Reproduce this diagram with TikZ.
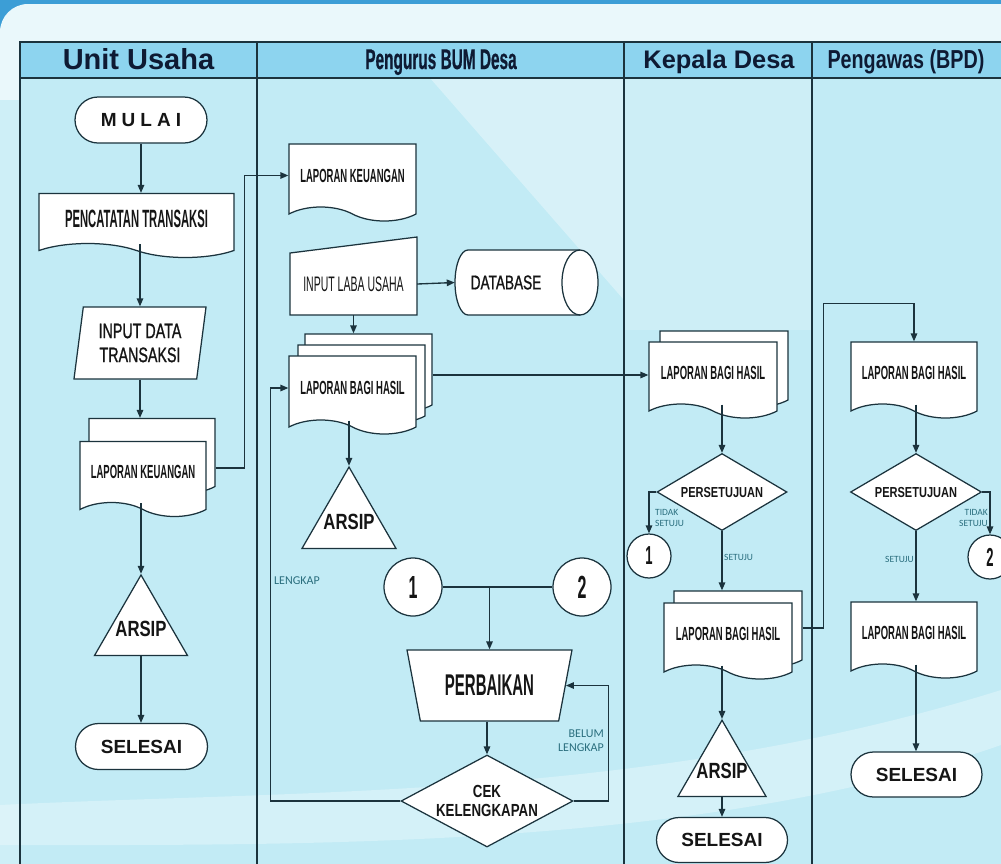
\documentclass[tikz,border=0pt]{standalone}
\usepackage{fontspec}
\setmainfont{Liberation Sans}
\newfontfamily\condf[FakeStretch=0.5]{Liberation Sans}
\newfontfamily\pctf[FakeStretch=0.45]{Liberation Sans}
\newfontfamily\midf[FakeStretch=0.68,FakeBold=1]{Liberation Sans}
\newfontfamily\hdnarf[FakeStretch=0.54,FakeBold=0.6]{Liberation Sans}
\newfontfamily\narf[FakeStretch=0.76]{Liberation Sans}
\newfontfamily\lblf{Carlito}
\usetikzlibrary{shapes.geometric,shapes.symbols,shapes.misc,arrows.meta,calc}
\definecolor{ln}{HTML}{1B333D}
\definecolor{txt}{HTML}{151515}
\definecolor{hdtxt}{HTML}{0E1A33}
\definecolor{lblc}{HTML}{2A6E7E}
\definecolor{topblue}{HTML}{3C9ED6}
\definecolor{pale}{HTML}{EAF8FB}
\definecolor{bgcyan}{HTML}{C2EBF5}
\definecolor{headblue}{HTML}{8DD4EF}
\newcommand{\trit}[1]{\makebox[0pt]{\raisebox{-7.9pt}[0pt][0pt]{#1}}}
\begin{document}
\begin{tikzpicture}[x=1pt,y=-1pt,
  base/.style={draw=ln, line width=1.25pt, fill=white, text=txt, inner sep=0pt},
  term/.style={base, rounded rectangle, minimum width=132pt, minimum height=46pt,
    font=\bfseries\fontsize{19}{22}\selectfont},
  doc/.style={base, tape, tape bend top=none, tape bend bottom=out and in,
    tape bend height=14pt, minimum height=76pt, minimum width=127pt,
    font=\condf\bfseries\fontsize{19}{22}\selectfont},
  tri/.style={base, regular polygon, regular polygon sides=3,
    font=\narf\bfseries\fontsize{22}{24}\selectfont},
  dia/.style={base, diamond, align=center},
  circ/.style={base, circle},
  arr/.style={draw=ln, line width=1.35pt, -{Triangle[length=8pt,width=6.5pt]}},
  conn/.style={draw=ln, line width=1.35pt},
  tbl/.style={draw=ln, line width=1.2pt},
  hd/.style={text=hdtxt, inner sep=0pt, anchor=base},
  lbl/.style={text=lblc, inner sep=0pt, font=\lblf\fontsize{9.5}{11}\selectfont},
  lblbig/.style={text=lblc, inner sep=0pt, font=\lblf\fontsize{12}{14}\selectfont}
]
\path[use as bounding box] (0,0) rectangle (1001,863);
\clip (0,0) rectangle (1001,863);
% ---------- background ----------
\fill[topblue] (0,0) rectangle (1001,863);
\fill[pale, rounded corners=28pt] (0,4) rectangle (1060,920);
\fill[bgcyan!70!pale] (0,100) rectangle (20,880);
\fill[bgcyan] (20,78) rectangle (1010,880);
\fill[white, opacity=0.35] (430,78) -- (624,78) -- (624,300) -- cycle;
\fill[white, opacity=0.18] (624,78) rectangle (812,330);
\fill[white, opacity=0.3] (0,805) .. controls (300,790) and (650,800) .. (1001,690)
   -- (1001,745) .. controls (700,850) and (300,845) .. (0,845) -- cycle;
\fill[headblue] (20,42) rectangle (1010,78);
\draw[tbl] (20,880) -- (20,42) -- (1010,42);
\draw[tbl] (20,78) -- (1010,78);
\draw[tbl] (257,42) -- (257,880);
\draw[tbl] (624,42) -- (624,880);
\draw[tbl] (812,42) -- (812,880);
% ---------- headers ----------
\node[hd, font=\bfseries\fontsize{29}{32}\selectfont] (h1) at (138.5,69) {Unit Usaha};
\node[hd, font=\hdnarf\bfseries\fontsize{28.5}{30}\selectfont] (h2) at (441,69) {Pengurus BUM Desa};
\node[hd, font=\bfseries\fontsize{25.4}{28}\selectfont] (h3) at (719,68) {Kepala Desa};
\node[hd, font=\narf\bfseries\fontsize{26}{28}\selectfont] (h4) at (906,68) {Pengawas (BPD)};
% ---------- Unit Usaha ----------
\node[term] (mulai) at (141,120) {M\kern5pt U\kern5pt L\kern5pt A\kern5pt I};
\node[doc, minimum width=195pt, minimum height=64pt, font=\pctf\bfseries\fontsize{25}{27}\selectfont]
  (pct) at (136.5,218.5) {PENCATATAN TRANSAKSI};
\node[base, trapezium, trapezium left angle=80, trapezium right angle=100,
  trapezium stretches=true, minimum width=133pt, minimum height=72pt, align=center,
  font=\midf\fontsize{21}{24}\selectfont] (ida) at (140,343) {INPUT DATA\\TRANSAKSI};
\node[doc, minimum width=126pt, minimum height=75pt] (lk1b) at (152,449) {};
\node[doc, minimum width=126pt, minimum height=75pt] (lk1) at (143,472) {LAPORAN KEUANGAN};
\node[tri, minimum size=107.4pt] (ars1) at (141,628.7) {\trit{ARSIP}};
\node[term] (sel1) at (141.5,746.5) {SELESAI};
\draw[arr] (mulai.south) -- (mulai.south |- pct.north);
\draw[arr] (ida.north |- pct.south) -- (ida.north);
\draw[arr] (ida.south) -- (ida.south |- lk1b.north);
\draw[arr] (ars1.north |- lk1.south) -- (ars1.north);
\draw[arr] (ars1.south) -- (ars1.south |- sel1.north);
% ---------- Pengurus BUM Desa ----------
\node[doc, minimum height=77pt] (lkp) at (352.5,175.5) {LAPORAN KEUANGAN};
\draw[arr] ([yshift=4pt]lk1.east -| lk1b.east) -- ++(29,0) |- (lkp.west);
\draw[base] (290,315) -- (417,315) -- (417,237) -- (290,253) -- cycle;
\node[inner sep=0pt, minimum width=127pt, minimum height=62pt, text=txt,
  font=\condf\fontsize{21}{24}\selectfont] (ilu) at (353.5,284) {INPUT LABA USAHA};
% database cylinder
\draw[base] (468,250) -- (580,250)
  .. controls (589.9,250) and (598,264.5) .. (598,282.5)
  .. controls (598,300.5) and (589.9,315) .. (580,315) -- (468,315)
  .. controls (460.8,315) and (455,300.5) .. (455,282.5)
  .. controls (455,264.5) and (460.8,250) .. (468,250) -- cycle;
\draw[draw=ln, line width=1.25pt] (580,250) .. controls (570.1,250) and (562,264.5) .. (562,282.5)
  .. controls (562,300.5) and (570.1,315) .. (580,315);
\node[inner sep=0pt, minimum width=143pt, minimum height=65pt, text=txt,
  font=\midf\fontsize{20}{22}\selectfont] (db) at (526.5,282.5) {DATABASE\hspace*{41pt}};
\draw[arr] (ilu.east) -- (db.west);
\node[doc, minimum height=78pt] (lbh1b) at (368.5,366) {};
\node[doc, minimum height=78pt] (lbh1a) at (361.5,377) {};
\node[doc, minimum height=78pt] (lbh1) at (352.5,388) {LAPORAN BAGI HASIL};
\draw[arr] (ilu.south) -- (ilu.south |- lbh1b.north);
\node[tri, minimum size=108.5pt] (ars2) at (349,521.3) {\trit{ARSIP}};
\draw[arr] (ars2.north |- lbh1.south) -- (ars2.north);
\node[circ, minimum size=58pt, font=\condf\bfseries\fontsize{32}{34}\selectfont] (c1p) at (413,587) {1};
\node[circ, minimum size=58pt, font=\condf\bfseries\fontsize{32}{34}\selectfont] (c2p) at (582,587) {2};
\node[base, trapezium, trapezium left angle=112.6, trapezium right angle=112.6,
  trapezium stretches=true, minimum width=165pt, minimum height=71pt,
  font=\condf\bfseries\fontsize{30}{32}\selectfont] (perb) at (489.5,685.5) {PERBAIKAN};
\node[dia, aspect=1.87, minimum width=172pt, minimum height=92pt,
  font=\narf\bfseries\fontsize{17.5}{19}\selectfont] (cek) at (487,801) {CEK\\KELENGKAPAN};
\coordinate (jn) at (perb.north |- c1p.east);
\draw[conn] (c1p.east) -- (c2p.west);
\draw[arr] (jn) -- (perb.north);
\draw[arr] (cek.north |- perb.south) -- (cek.north);
\draw[arr] (cek.east) -- ++(35,0) |- (perb.east);
\draw[arr] (cek.west) -- ++(-130,0) |- (lbh1.west);
\node[lblbig, anchor=west] (tl1) at (274,581) {LENGKAP};
\node[lblbig, anchor=east, align=right] (tl2) at (604,741) {BELUM\\LENGKAP};
% ---------- Kepala Desa ----------
\node[doc, minimum width=128pt] (lbh2b) at (724,362) {};
\node[doc, minimum width=128pt] (lbh2) at (713,373) {LAPORAN BAGI HASIL};
\draw[arr] ([yshift=-9pt]lbh1b.east) -- ([yshift=-9pt]lbh1b.east -| lbh2.west);
\node[dia, aspect=1.69, minimum width=130pt, minimum height=77pt,
  font=\narf\bfseries\fontsize{14.5}{16}\selectfont] (ps1) at (722,492) {PERSETUJUAN};
\draw[arr] (ps1.north |- lbh2.south) -- (ps1.north);
\node[circ, minimum size=44pt, font=\condf\bfseries\fontsize{26}{28}\selectfont] (c1k) at (649,556) {1};
\draw[arr] (ps1.west) -| (c1k.north);
\node[lbl, anchor=west, align=left] (tl3) at (655,518) {TIDAK\\SETUJU};
\node[doc, minimum width=128pt] (lbh3b) at (738,622) {};
\node[doc, minimum width=128pt] (lbh3) at (728,634) {LAPORAN BAGI HASIL};
\draw[arr] (ps1.south) -- (ps1.south |- lbh3b.north);
\node[lbl, anchor=west] (tl4) at (724,557) {SETUJU};
\node[tri, minimum size=101.6pt] (ars3) at (722,771) {\trit{ARSIP}};
\node[term, minimum width=131pt, minimum height=45pt] (sel3) at (722,840) {SELESAI};
\draw[arr] (ars3.north |- lbh3.south) -- (ars3.north);
\draw[arr] (ars3.south) -- (ars3.south |- sel3.north);
% ---------- Pengawas (BPD) ----------
\node[doc, minimum width=126pt] (lbh4) at (914,373) {LAPORAN BAGI HASIL};
\draw[arr] ([yshift=-6pt]lbh3b.east) -- ++(21,0) |- ([yshift=38pt]lbh4.north) -- (lbh4.north);
\node[dia, aspect=1.69, minimum width=131pt, minimum height=77pt,
  font=\narf\bfseries\fontsize{14.5}{16}\selectfont] (ps2) at (916,492) {PERSETUJUAN};
\draw[arr] (ps2.north |- lbh4.south) -- (ps2.north);
\node[circ, minimum size=44pt, font=\condf\bfseries\fontsize{26}{28}\selectfont] (c2w) at (990,557) {2};
\draw[arr] (ps2.east) -| (c2w.north);
\node[lbl, anchor=east, align=right] (tl5) at (988,518) {TIDAK\\SETUJU};
\node[doc, minimum width=126pt] (lbh5) at (914,633) {LAPORAN BAGI HASIL};
\draw[arr] (ps2.south) -- (ps2.south |- lbh5.north);
\node[lbl, anchor=east] (tl6) at (914,559) {SETUJU};
\node[term, minimum width=131pt, minimum height=45pt] (sel5) at (916.5,774.5) {SELESAI};
\draw[arr] (ps2.south |- lbh5.south) -- (ps2.south |- sel5.north);
\end{tikzpicture}
\end{document}
